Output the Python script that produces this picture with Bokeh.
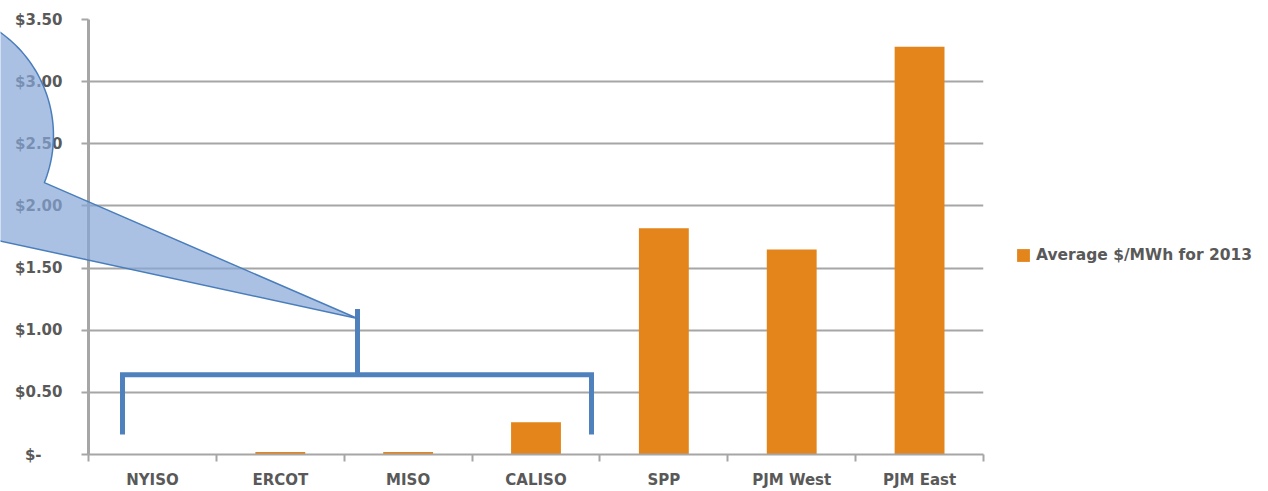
import numpy as np
from bokeh.plotting import figure
from bokeh.models import Range1d, FixedTicker, Legend, LegendItem
from bokeh.embed import file_html
from bokeh.resources import INLINE

# ---- data ----
categories = ["NYISO", "ERCOT", "MISO", "CALISO", "SPP", "PJM West", "PJM East"]
values = [0.0, 0.02, 0.02, 0.26, 1.82, 1.65, 3.28]
y_ticks = [0, 0.5, 1.0, 1.5, 2.0, 2.5, 3.0, 3.5]
y_labels = ["$-\u00a0\u00a0\u00a0\u00a0", "$0.50", "$1.00", "$1.50", "$2.00", "$2.50", "$3.00", "$3.50"]
series_name = "Average $/MWh for 2013"

# bracket / callout decoration (in data units)
bracket_x = [0.266, 0.266, 3.934, 3.934]
bracket_y = [0.16, 0.642, 0.642, 0.16]
stem_x = [2.104, 2.104]
stem_y = [0.642, 1.17]
bubble_center = (-1.264, 2.569)
bubble_radius = (0.990, 1.016)
bubble_arc_deg = (-21.9, 304.0)
bubble_tip = (2.104, 1.10)

BAR = "#E3851A"
GRID = "#A6A6A6"
TXT = "#595959"
BLUE = "#4F81BD"
FONT = "DejaVu Sans"
FS = "15px"

W, H = 1268, 491
LEFT, TOP, BOTTOM, RIGHT = 88, 19, 455, 983
FW, FH = RIGHT - LEFT, BOTTOM - TOP

x_pos = [i + 0.5 for i in range(len(categories))]
NX = len(categories)
YMAX = 3.5

p = figure(width=W, height=H, output_backend="svg", toolbar_location=None,
           x_range=Range1d(0, NX), y_range=Range1d(0, YMAX),
           min_border_left=LEFT, min_border_right=W - RIGHT,
           min_border_top=TOP, min_border_bottom=H - BOTTOM)
p.outline_line_color = None

r = p.vbar(x=x_pos, top=values, width=0.39, color=BAR, line_color=None)

# x axis
xa = p.xaxis[0]
xa.ticker = FixedTicker(ticks=x_pos, minor_ticks=list(range(NX + 1)))
xa.major_label_overrides = {x: c for x, c in zip(x_pos, categories)}
xa.major_tick_line_color = None
xa.major_tick_out = 0
xa.major_tick_in = 0
xa.minor_tick_out = 7
xa.minor_tick_in = 0
xa.minor_tick_line_color = GRID
xa.minor_tick_line_width = 2
xa.axis_line_color = GRID
xa.axis_line_width = 2
xa.major_label_standoff = 9
xa.major_label_text_font = FONT
xa.major_label_text_font_style = "bold"
xa.major_label_text_font_size = FS
xa.major_label_text_color = TXT

# y axis
ya = p.yaxis[0]
ya.ticker = FixedTicker(ticks=y_ticks)
ya.major_label_overrides = {t: l for t, l in zip(y_ticks, y_labels)}
ya.minor_tick_line_color = None
ya.major_tick_out = 7
ya.major_tick_in = 0
ya.major_tick_line_color = GRID
ya.major_tick_line_width = 2
ya.axis_line_color = GRID
ya.axis_line_width = 3
ya.major_label_standoff = 19
ya.major_label_text_font = FONT
ya.major_label_text_font_style = "bold"
ya.major_label_text_font_size = FS
ya.major_label_text_color = TXT

p.xgrid.grid_line_color = None
p.ygrid.ticker = FixedTicker(ticks=y_ticks)
p.ygrid.grid_line_color = GRID
p.ygrid.grid_line_width = 2

# bracket
p.line(x=bracket_x, y=bracket_y, line_color=BLUE, line_width=5, line_join="miter")
p.line(x=stem_x, y=stem_y, line_color=BLUE, line_width=5)

# ---- transparent overlay figure spanning the whole canvas (same data mapping) ----
kx = FW / NX
ky = FH / YMAX
o = figure(width=W, height=H, output_backend="svg", toolbar_location=None,
           x_range=Range1d(-LEFT / kx, (W - LEFT) / kx),
           y_range=Range1d(-(H - BOTTOM) / ky, YMAX + TOP / ky),
           x_axis_type=None, y_axis_type=None,
           min_border=0, min_border_left=0, min_border_right=0,
           min_border_top=0, min_border_bottom=0)
o.grid.visible = False
o.outline_line_color = None
o.background_fill_color = None
o.border_fill_color = None
o.margin = (-H, 0, 0, 0)

cx, cy = bubble_center
rx, ry = bubble_radius
ang = np.radians(np.linspace(bubble_arc_deg[0], bubble_arc_deg[1], 180))
bx = list(cx + rx * np.cos(ang)) + [bubble_tip[0]]
by = list(cy + ry * np.sin(ang)) + [bubble_tip[1]]
o.patch(x=bx, y=by, fill_color="#86A6D8", fill_alpha=0.70,
        line_color="#4A7EBB", line_width=1.5)

# legend (renderer kept hidden; it only supplies the swatch)
swatch = o.vbar(x=x_pos, top=values, width=0.39, color=BAR, line_color=None, visible=False)
legend = Legend(items=[LegendItem(label=series_name, renderers=[swatch])],
                location=(1015, H - 264), click_policy="none")
legend.border_line_color = None
legend.background_fill_alpha = 0
legend.inactive_fill_alpha = 0
legend.padding = 0
legend.margin = 0
legend.glyph_width = 16
legend.glyph_height = 16
legend.label_standoff = 5
legend.label_height = 16
legend.label_text_font = FONT
legend.label_text_font_style = "bold"
legend.label_text_font_size = "15.5px"
legend.label_text_color = TXT
o.add_layout(legend, "center")

open("out.html", "w").write(file_html([p, o], INLINE))
